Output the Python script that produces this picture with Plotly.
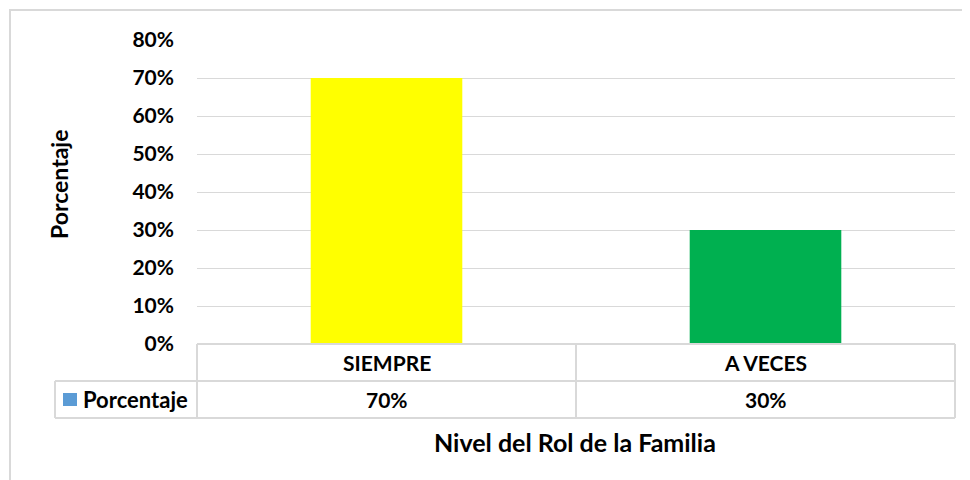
import plotly.graph_objects as go

categories = ["SIEMPRE", "A VECES"]
values = [0.70, 0.30]
bar_colors = ["#FFFF00", "#00B050"]
series_name = "Porcentaje"
y_ticks = [0, 0.1, 0.2, 0.3, 0.4, 0.5, 0.6, 0.7, 0.8]
y_tick_labels = ["0%", "10%", "20%", "30%", "40%", "50%", "60%", "70%", "80%"]
x_title = "Nivel del Rol de la Familia"
y_title = "Porcentaje"

OFF = 8  # page body margin
W, H = 970 - OFF, 480 - OFF
L, R, T = 197 - OFF, 15, 40 - OFF
B = H - (344 - OFF)
PW, PH = W - L - R, H - T - B

def px(x):
    # x in screenshot pixels -> paper coords
    return (x - OFF - L) / PW

def py(y):
    return (H - B - (y - OFF)) / PH

FONT = "Lato"
grid = "#D9D9D9"

fig = go.Figure()
fig.add_trace(go.Bar(
    x=categories, y=values, marker=dict(color=bar_colors, line=dict(width=0)),
    name=series_name, showlegend=False, hoverinfo="skip"
))

fig.update_layout(
    width=W, height=H,
    margin=dict(l=L, r=R, t=T, b=B),
    paper_bgcolor="white", plot_bgcolor="white",
    bargap=0.6,
    font=dict(family=FONT, color="#000000"),
    xaxis=dict(showticklabels=False, showgrid=False, zeroline=False, showline=False,
               range=[-0.5, 1.5], fixedrange=True),
    yaxis=dict(range=[0, 0.8], tickvals=y_ticks, ticktext=y_tick_labels,
               showgrid=True, gridcolor=grid, gridwidth=1.3, zeroline=False,
               showline=False, ticks="", ticklabelstandoff=22,
               tickfont=dict(family=FONT, size=21, weight="bold", color="#000000")),
)

shapes = []
line = dict(color=grid, width=2)
# outer chart border
shapes.append(dict(type="rect", xref="paper", yref="paper",
                   x0=px(10), x1=px(985), y0=py(495), y1=py(10), line=line))
# data table lines
y_top, y_mid, y_bot = 344, 381, 418
shapes.append(dict(type="line", xref="paper", yref="paper", x0=px(197), x1=px(955), y0=py(y_top), y1=py(y_top), line=line))
shapes.append(dict(type="line", xref="paper", yref="paper", x0=px(55), x1=px(955), y0=py(y_mid), y1=py(y_mid), line=line))
shapes.append(dict(type="line", xref="paper", yref="paper", x0=px(55), x1=px(955), y0=py(y_bot), y1=py(y_bot), line=line))
for xv in [197, 576, 955]:
    shapes.append(dict(type="line", xref="paper", yref="paper", x0=px(xv), x1=px(xv), y0=py(y_top), y1=py(y_bot), line=line))
shapes.append(dict(type="line", xref="paper", yref="paper", x0=px(55), x1=px(55), y0=py(y_mid), y1=py(y_bot), line=line))
# legend key
shapes.append(dict(type="rect", xref="paper", yref="paper", x0=px(63), x1=px(77), y0=py(406), y1=py(393),
                   fillcolor="#5B9BD5", line=dict(width=0)))

annotations = []
tf = dict(family=FONT, size=21, weight="bold", color="#000000")
for c, v in zip(categories, values):
    annotations.append(dict(x=c, xref="x", y=py((y_top + y_mid) / 2), yref="paper", text=c,
                            showarrow=False, font=tf, xanchor="center", yanchor="middle"))
    annotations.append(dict(x=c, xref="x", y=py((y_mid + y_bot) / 2), yref="paper", text=f"{v:.0%}",
                            showarrow=False, font=tf, xanchor="center", yanchor="middle"))
annotations.append(dict(x=px(81), xref="paper", y=py((y_mid + y_bot) / 2), yref="paper", text=series_name,
                        showarrow=False, font=dict(family=FONT, size=22, weight="bold", color="#000000"),
                        xanchor="left", yanchor="middle"))
annotations.append(dict(x=px(575), xref="paper", y=py(442), yref="paper", text=x_title,
                        showarrow=False, font=dict(family=FONT, size=25, weight="bold", color="#000000"),
                        xanchor="center", yanchor="middle"))
annotations.append(dict(x=px(59), xref="paper", y=py(185), yref="paper", text=y_title, textangle=-90,
                        showarrow=False, font=dict(family=FONT, size=23, weight="bold", color="#000000"),
                        xanchor="center", yanchor="middle"))

fig.update_layout(shapes=shapes, annotations=annotations)
fig.write_html("out.html")
